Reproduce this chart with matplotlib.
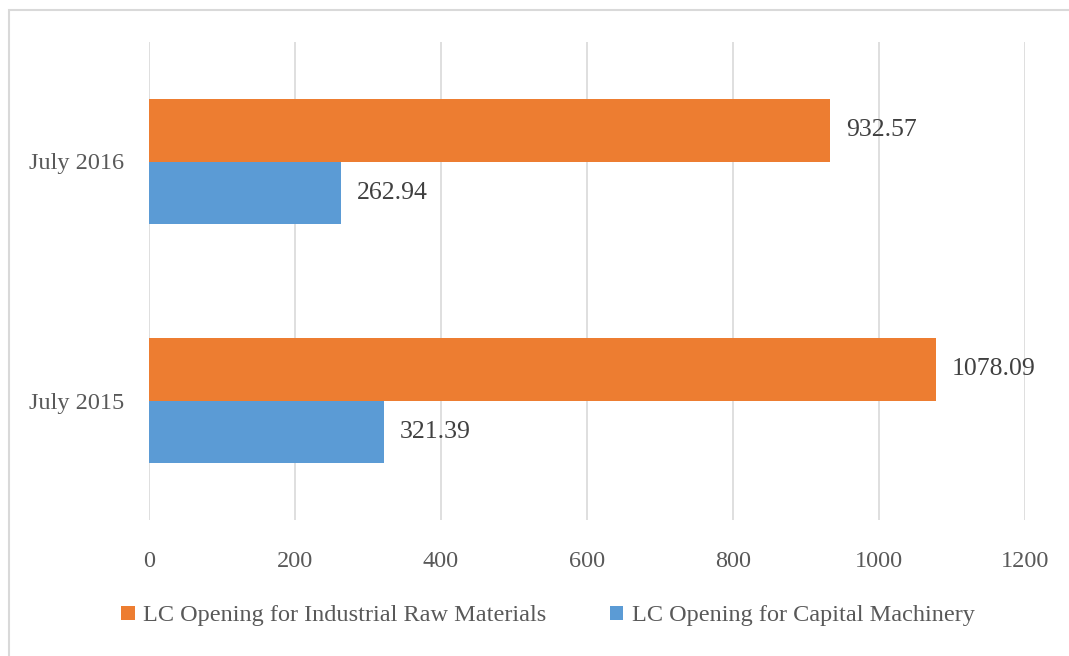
import matplotlib
matplotlib.use("Agg")
import matplotlib.pyplot as plt
import numpy as np
from matplotlib.patches import Rectangle

# --- dados ---
categorias = ["July 2015", "July 2016"]
materias_primas = [1078.09, 932.57]
maquinaria = [321.39, 262.94]
series = ["LC Opening for Industrial Raw Materials", "LC Opening for Capital Machinery"]
xticks = [0, 200, 400, 600, 800, 1000, 1200]

LARANJA = "#ED7D31"
AZUL = "#5B9BD5"
CINZA = "#595959"
FONTE = ["Liberation Serif", "DejaVu Serif"]
TAM = 17.5

W, H = 1069, 656
fig = plt.figure(figsize=(W / 100, H / 100), dpi=100)
fig.patch.set_facecolor("white")

# moldura do gráfico (cortada à direita e embaixo)
fig.add_artist(Rectangle((9 / W, -0.05), 1.2, 1 - 10 / H + 0.05, transform=fig.transFigure,
                         fill=False, ec="#D9D9D9", lw=1.5))

ax = fig.add_axes([149 / W, 1 - 520 / H, 876 / W, 478 / H])
y = np.arange(len(categorias))
h = 0.262

ax.barh(y + h / 2, materias_primas, height=h, color=LARANJA, zorder=2, label=series[0])
ax.barh(y - h / 2, maquinaria, height=h, color=AZUL, zorder=2, label=series[1])

# rótulos de valor
for yi, v in zip(y + h / 2, materias_primas):
    ax.text(v + 22, yi, f"{v:.2f}", va="center", ha="left", fontsize=18.5, color="#404040", family=FONTE)
for yi, v in zip(y - h / 2, maquinaria):
    ax.text(v + 22, yi, f"{v:.2f}", va="center", ha="left", fontsize=18.5, color="#404040", family=FONTE)

ax.set_xlim(0, 1200)
ax.set_ylim(-0.5, 1.5)
ax.set_xticks(xticks)
ax.set_xticklabels([str(t) for t in xticks], fontsize=TAM, color=CINZA, family=FONTE)
ax.set_yticks(y)
ax.set_yticklabels(categorias, fontsize=TAM, color=CINZA, family=FONTE)
ax.tick_params(length=0, pad=18)
ax.tick_params(axis="x", pad=22)
ax.grid(axis="x", color="#D9D9D9", lw=1.2, zorder=0)
for s in ax.spines.values():
    s.set_visible(False)

leg = fig.legend(loc="center", bbox_to_anchor=(548 / W, 1 - 616 / H), ncol=2, frameon=False,
                 prop={"family": FONTE, "size": TAM}, handlelength=0.55, handleheight=0.55,
                 handletextpad=0.35, columnspacing=2.6)
for t in leg.get_texts():
    t.set_color(CINZA)

fig.savefig("out.png", dpi=100, facecolor="white")
